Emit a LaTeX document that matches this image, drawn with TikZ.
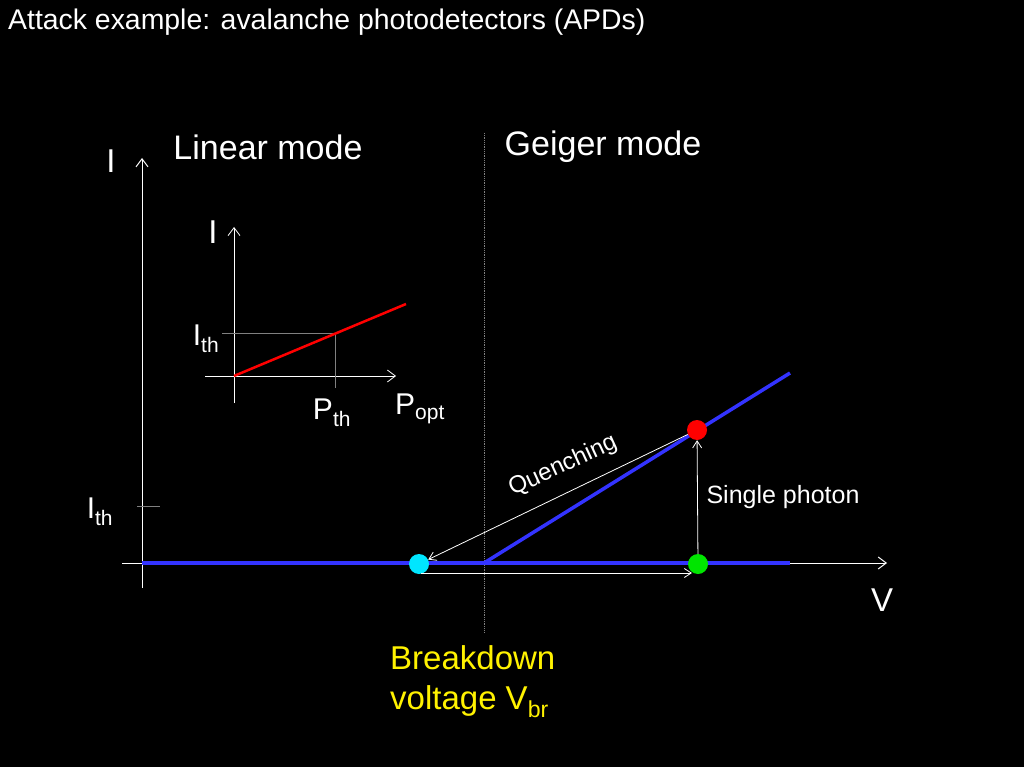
\documentclass[tikz,border=0pt]{standalone}
\usepackage{fontspec}
\setmainfont{Liberation Sans}
\usetikzlibrary{arrows.meta}
\definecolor{apdcyan}{RGB}{0,230,255}
\begin{document}
\begin{tikzpicture}[x=1pt,y=-1pt,
  axis/.style={white,line width=1pt,-{Straight Barb[length=8pt,width=12pt]}},
  thin arr/.style={white,line width=0.8pt,-{Straight Barb[length=7pt,width=9pt]}},
  lbl/.style={white,inner sep=0pt},
  dot/.style={circle,minimum size=20pt,inner sep=0pt}]
\fill[black] (0,0) rectangle (1024,767);
\useasboundingbox (0,0) rectangle (1024,767);
\node[lbl,anchor=west,font=\fontsize{28.4}{30}\selectfont] (title) at (8,22) {Attack example: avalanche photodetectors (APDs)};
% main axes
\coordinate (yb) at (142,588); \coordinate (yt) at (142,158);
\coordinate (xl) at (122,563); \coordinate (xr) at (887,563);
\draw[axis] (yb) -- (yt);
\draw[axis] (xl) -- (xr);
\node[lbl,font=\fontsize{33}{36}\selectfont] (I) at (111,161) {I};
\node[lbl,font=\fontsize{33}{36}\selectfont] (V) at (882,600) {V};
\coordinate (t1) at (137,506); \coordinate (t2) at (160,506);
\draw[gray,line width=0.8pt] (t1) -- (t2);
\node[lbl,font=\fontsize{30}{32}\selectfont] (ith) at (100,512) {I\textsubscript{th}};
% divider
\coordinate (d1) at (484,133); \coordinate (d2) at (484,632);
\draw[gray,line width=0.8pt,densely dotted] (d1) -- (d2);
\node[lbl,font=\fontsize{34}{36}\selectfont] (lin) at (268,147) {Linear mode};
\node[lbl,font=\fontsize{34}{36}\selectfont] (gei) at (603,147) {Geiger mode};
% blue curve
\coordinate (b0) at (142,563); \coordinate (bk) at (484,563);
\coordinate (b1) at (790,563); \coordinate (b2) at (790,373);
\draw[blue!80!white,line width=3.5pt] (b0) -- (b1);
\draw[blue!80!white,line width=3.5pt] (bk) -- (b2);
% dots
\node[dot,fill=apdcyan] (cy) at (419,564) {};
\node[dot,fill=green!90!black] (gr) at (698,564) {};
\node[dot,fill=red] (rd) at (697,430) {};
% arrows
\draw[thin arr] (rd) -- (cy);
\node[lbl,rotate=24.8,font=\fontsize{24}{26}\selectfont] (q) at (563,466) {Quenching};
\coordinate (a1) at (421,573); \coordinate (a2) at (692,573);
\draw[thin arr] (a1) -- (a2);
\draw[thin arr] (gr) -- (rd);
\node[lbl,font=\fontsize{25}{27}\selectfont] (sp) at (783,497) {Single photon};
\node[lbl,yellow,anchor=north west,align=left,font=\fontsize{33}{40}\selectfont] (bd) at (390,645) {Breakdown\\voltage V\textsubscript{br}};
% inset
\coordinate (iyb) at (234,403); \coordinate (iyt) at (234,227);
\coordinate (ixl) at (205,376); \coordinate (ixr) at (396,376);
\draw[axis,line width=0.8pt] (iyb) -- (iyt);
\draw[axis,line width=0.8pt] (ixl) -- (ixr);
\coordinate (r0) at (234,376); \coordinate (r1) at (406,304);
\coordinate (h0) at (222,333); \coordinate (h1) at (335,333); \coordinate (h2) at (335,388);
\draw[gray,line width=0.6pt] (h0) -- (h1) -- (h2);
\draw[red,line width=2.5pt] (r0) -- (r1);
\node[lbl,font=\fontsize{33}{36}\selectfont] (iI) at (213,232) {I};
\node[lbl,font=\fontsize{30}{32}\selectfont] (iith) at (206,339) {I\textsubscript{th}};
\node[lbl,font=\fontsize{30}{32}\selectfont] (pth) at (332,413) {P\textsubscript{th}};
\node[lbl,font=\fontsize{30}{32}\selectfont] (popt) at (420,409) {P\textsubscript{opt}};
\end{tikzpicture}
\end{document}
